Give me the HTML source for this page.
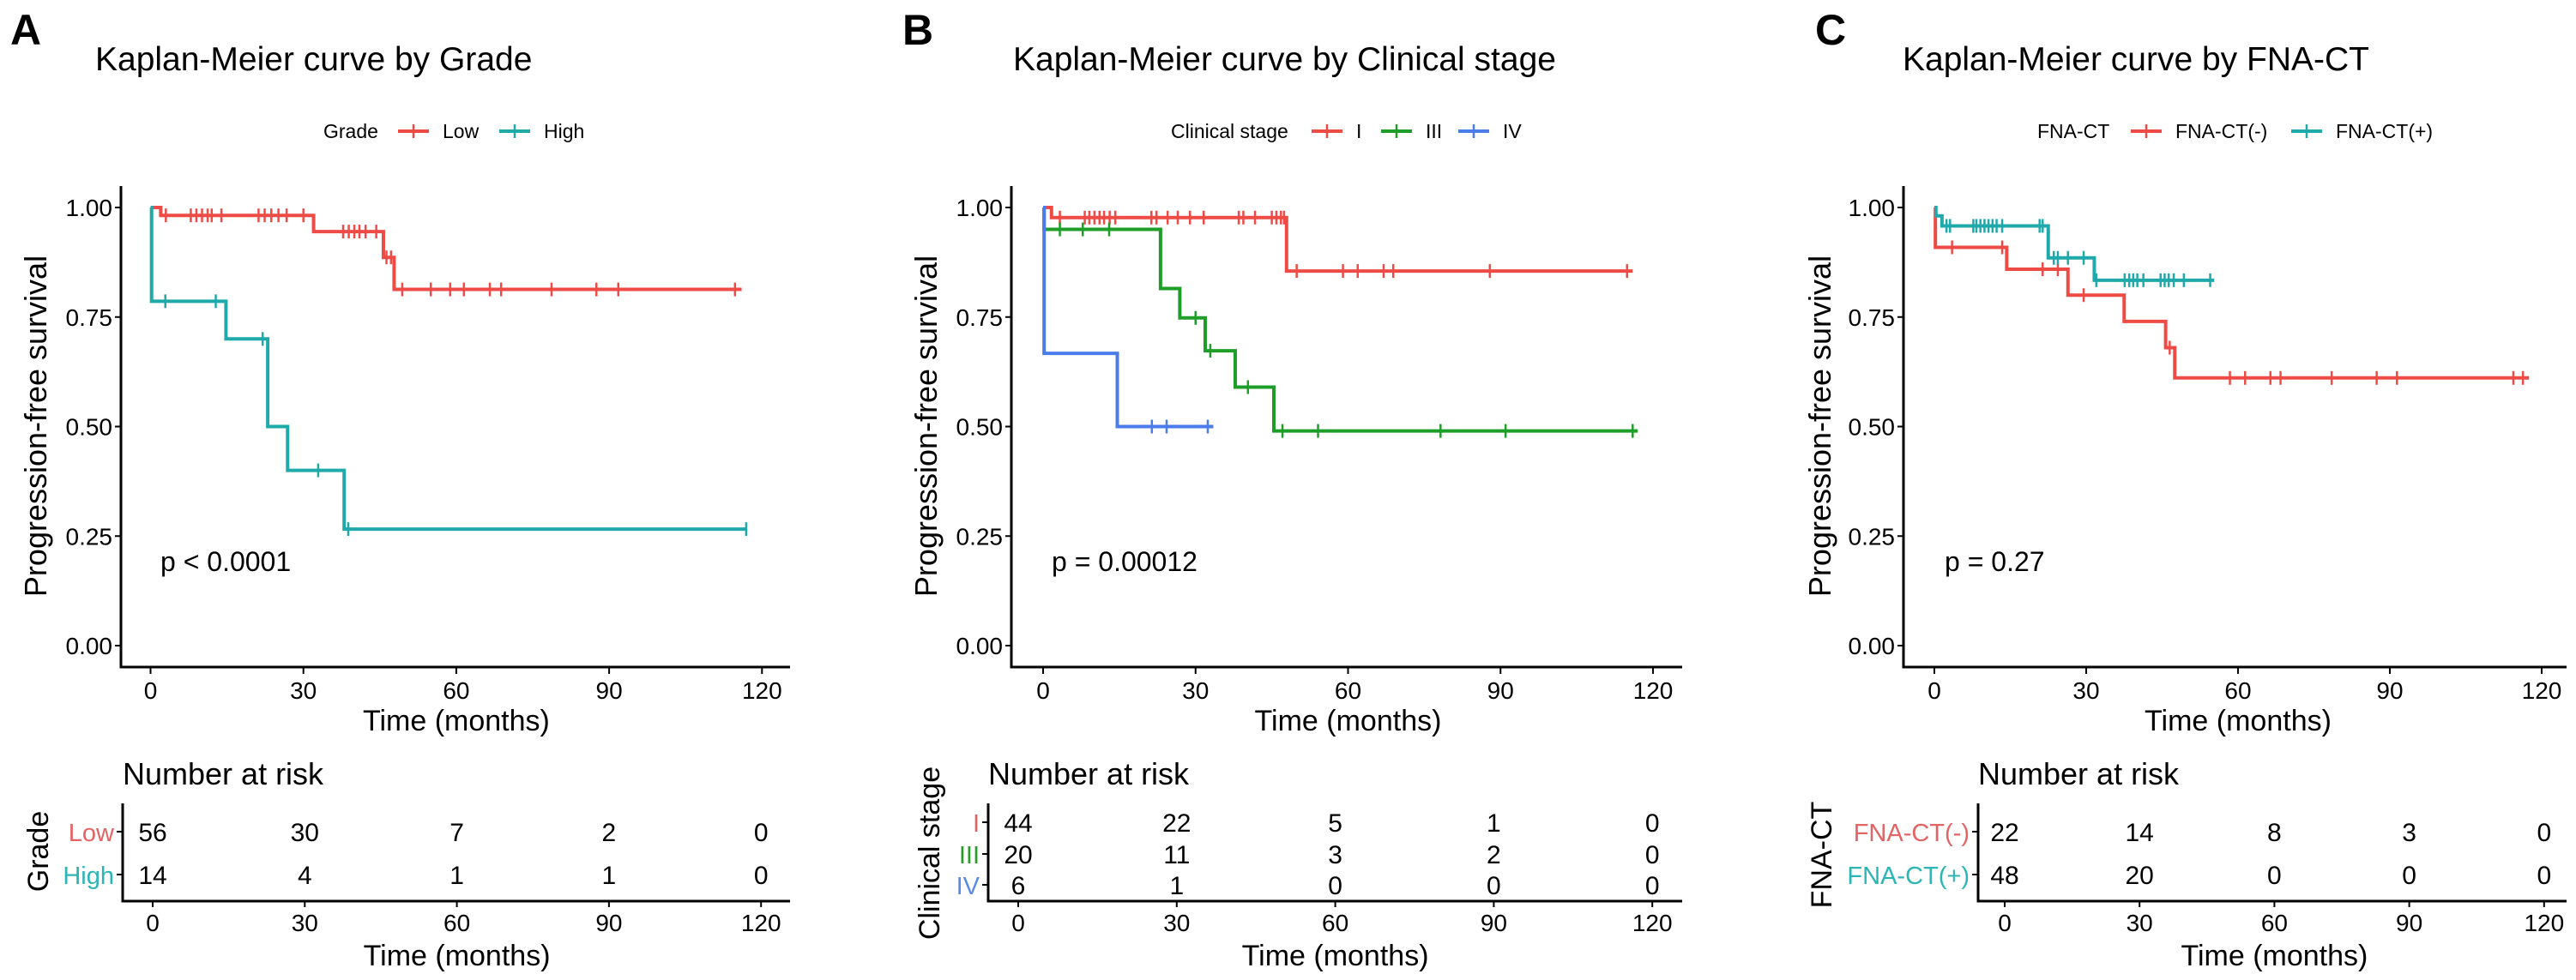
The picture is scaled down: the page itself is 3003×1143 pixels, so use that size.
<!DOCTYPE html>
<html><head><meta charset="utf-8">
<style>
html,body{margin:0;padding:0;background:#fff;}
svg{display:block;font-family:"Liberation Sans",Arial,sans-serif;}
</style></head>
<body>
<svg id="fig" width="3003" height="1143" viewBox="0 0 3003 1143" xmlns="http://www.w3.org/2000/svg"></svg>
<script>
// ---------- Panel A data (Grade) ----------
const aLowTimes = [0, 2, 32, 45.7, 47.8];
const aLowSurv = [1, 0.982, 0.945, 0.886, 0.813];
const aLowCens = [3, 7.9, 9, 10.1, 11.2, 12, 13.9, 21.2, 22.4, 23.7, 25.1, 26.7, 30, 37.8, 38.9, 40, 41, 42.2, 44.3, 46.3, 47.2, 49.4, 55, 58.8, 61.5, 66.6, 68.8, 78.7, 87.5, 91.8, 114.7];
const aLowEnd = 116;
const aHighTimes = [0, 0.2, 14.8, 23, 26.9, 38];
const aHighSurv = [1, 0.786, 0.70, 0.50, 0.40, 0.266];
const aHighCens = [2.9, 12.8, 22, 32.9, 38.8, 116.9];
const aHighEnd = 117;
const aRiskLow = [56, 30, 7, 2, 0];
const aRiskHigh = [14, 4, 1, 1, 0];
// ---------- Panel B data (Clinical stage) ----------
const bITimes = [0, 1.65, 47.9];
const bISurv = [1, 0.977, 0.855];
const bICens = [3.3, 8.2, 9.1, 10.1, 11.1, 12, 13.1, 14.2, 21.3, 22.3, 24.5, 26.5, 28.9, 31.6, 38.5, 39.4, 41.7, 45, 45.9, 46.8, 47.4, 49.9, 59, 61.9, 67, 68.9, 87.9, 114.9];
const bIEnd = 116;
const bIIITimes = [0, 0.2, 23.1, 26.9, 31.9, 37.8, 45.4];
const bIIISurv = [1, 0.95, 0.815, 0.748, 0.673, 0.59, 0.49];
const bIIICens = [3.3, 7.8, 13, 30, 32.9, 40.3, 47.1, 54.1, 78.2, 91, 116];
const bIIIEnd = 117;
const bIVTimes = [0, 0.2, 14.6];
const bIVSurv = [1, 0.667, 0.5];
const bIVCens = [21.4, 24.3, 32.4];
const bIVEnd = 33.5;
const bRiskI = [44, 22, 5, 1, 0];
const bRiskIII = [20, 11, 3, 2, 0];
const bRiskIV = [6, 1, 0, 0, 0];
// ---------- Panel C data (FNA-CT) ----------
const cNegTimes = [0, 0.2, 14.3, 26.4, 37.5, 45.7, 47.5];
const cNegSurv = [1, 0.909, 0.859, 0.80, 0.74, 0.68, 0.611];
const cNegCens = [3.5, 13.4, 21.4, 24.4, 29.5, 46.5, 58.4, 61.4, 66.4, 68.4, 78.5, 87.4, 91.4, 114.4, 116.3];
const cNegEnd = 117.5;
const cPosTimes = [0, 0.3, 1.5, 22.5, 31.6];
const cPosSurv = [1, 0.981, 0.958, 0.885, 0.834];
const cPosCens = [2.4, 3.1, 7.7, 8.3, 9.1, 9.9, 10.7, 11.5, 12.3, 13.4, 20.8, 21.4, 23.6, 24.4, 26.4, 29.5, 32, 37.6, 38.5, 39.3, 40.1, 41.3, 44.7, 45.5, 46.3, 47.3, 49.3, 54.5];
const cPosEnd = 55.3;
const cRiskNeg = [22, 14, 8, 3, 0];
const cRiskPos = [48, 20, 0, 0, 0];
// ---------- shared axis labels ----------
const xTicks = [0, 30, 60, 90, 120];
const yTicks = [0, 0.25, 0.5, 0.75, 1];
const yTickLabels = ["0.00", "0.25", "0.50", "0.75", "1.00"];

const RED = "#EE4B47", TEAL = "#1FA9AB", GREEN = "#1E9E28", BLUE = "#4A7DEB";
const RED_L = "#E36464", TEAL_L = "#2BB5B5", GREEN_L = "#2A9A2A", BLUE_L = "#5B8BE8";
const NS = "http://www.w3.org/2000/svg";
const svg = document.getElementById("fig");

function mk(tag, attrs, parent, text) {
  const e = document.createElementNS(NS, tag);
  for (const k in attrs) e.setAttribute(k, attrs[k]);
  if (text !== undefined) e.textContent = text;
  (parent || svg).appendChild(e);
  return e;
}
function stepVal(times, surv, t) {
  let v = surv[0];
  for (let i = 0; i < times.length; i++) if (times[i] <= t) v = surv[i];
  return v;
}

function panel(cfg) {
  const g = mk("g", {});
  
  
  const X = t => cfg.t0 + t * cfg.ppm;
  const Y = v => 753 - 511 * v;
  const L = mk("text", {x: cfg.letterX, y: 52, "font-size": 50, "font-weight": "bold"}, g, cfg.letter);
  
  
  const T = mk("text", {x: cfg.titleX, y: 82, "font-size": 39}, g, cfg.title);
  
  
  const lg = mk("g", {}, g);
  
  
  const lt = mk("text", {x: cfg.legX, y: 161, "font-size": 23}, lg, cfg.legTitle);
  
  
  cfg.series.forEach(s => {
    const e = mk("g", {}, lg);
    
    
    mk("line", {x1: s.legKey, x2: s.legKey + 36, y1: 153, y2: 153, stroke: s.color, "stroke-width": 4}, e);
    mk("line", {x1: s.legKey + 18, x2: s.legKey + 18, y1: 145, y2: 161, stroke: s.color, "stroke-width": 2.5}, e);
    mk("text", {x: s.legKey + 52, y: 161, "font-size": 23}, e, s.name);
  });
  const ax = mk("g", {stroke: "#000", "stroke-width": 3}, g);
  
  
  mk("line", {x1: cfg.axX, x2: cfg.axX, y1: 217, y2: 779}, ax);
  mk("line", {x1: cfg.axX - 1.5, x2: cfg.axEnd, y1: 778, y2: 778}, ax);
  yTicks.forEach((v, i) => {
    mk("line", {x1: cfg.axX - 7, x2: cfg.axX, y1: Y(v), y2: Y(v), "stroke-width": 2}, ax);
    const tl = mk("text", {x: cfg.axX - 10, y: Y(v) + 10, "font-size": 28, "text-anchor": "end", stroke: "none", fill: "#000"}, g, yTickLabels[i]);
    
    
  });
  xTicks.forEach(t => {
    mk("line", {x1: X(t), x2: X(t), y1: 778, y2: 786, "stroke-width": 2}, ax);
    const tl = mk("text", {x: X(t), y: 815, "font-size": 28, "text-anchor": "middle"}, g, String(t));
    
    
  });
  const xt = mk("text", {x: X(60), y: 852, "font-size": 34, "text-anchor": "middle"}, g, "Time (months)");
  
  
  const yt = mk("text", {x: 0, y: 0, "font-size": 36, "text-anchor": "middle", transform: `translate(${cfg.yTitleX},497) rotate(-90)`}, g, "Progression-free survival");
  
  
  cfg.series.forEach(s => {
    const sg = mk("g", {}, g);
    
    
    let d = `M${X(s.times[0])},${Y(s.surv[0])}`;
    for (let i = 1; i < s.times.length; i++) {
      d += ` H${X(s.times[i])} V${Y(s.surv[i])}`;
    }
    d += ` H${X(s.end)}`;
    mk("path", {d: d, fill: "none", stroke: s.color, "stroke-width": 4}, sg);
    s.cens.forEach(t => {
      const v = stepVal(s.times, s.surv, t);
      const c = mk("line", {x1: X(t), x2: X(t), y1: Y(v) - 8, y2: Y(v) + 8, stroke: s.color, "stroke-width": 2.5}, sg);
      
      
    });
  });
  const pv = mk("text", {x: cfg.pX, y: 666, "font-size": 32}, g, cfg.pText);
  
  
  const rg = mk("g", {}, g);
  
  
  const RX = t => cfg.rt0 + t * cfg.rppm;
  const nt = mk("text", {x: cfg.rAxX, y: 915, "font-size": 36}, rg, "Number at risk");
  
  
  mk("line", {x1: cfg.rAxX, x2: cfg.rAxX, y1: 937, y2: 1052, stroke: "#000", "stroke-width": 3}, rg);
  mk("line", {x1: cfg.rAxX - 1.5, x2: cfg.axEnd, y1: 1051, y2: 1051, stroke: "#000", "stroke-width": 3}, rg);
  xTicks.forEach(t => {
    mk("line", {x1: RX(t), x2: RX(t), y1: 1051, y2: 1058, stroke: "#000", "stroke-width": 2}, rg);
    const tl = mk("text", {x: RX(t), y: 1086, "font-size": 28, "text-anchor": "middle"}, rg, String(t));
    
    
  });
  const rxt = mk("text", {x: RX(60), y: 1126, "font-size": 34, "text-anchor": "middle"}, rg, "Time (months)");
  
  
  const ryt = mk("text", {x: 0, y: 0, "font-size": 34, "text-anchor": "middle", transform: `translate(${cfg.rTitleX},${cfg.rTitleY}) rotate(-90)`}, rg, cfg.legTitle);
  
  
  cfg.series.forEach((s, i) => {
    const ry = cfg.rows[i];
    mk("line", {x1: cfg.rAxX - 7, x2: cfg.rAxX, y1: ry, y2: ry, stroke: "#000", "stroke-width": 2}, rg);
    const lab = mk("text", {x: cfg.rAxX - 10, y: ry + 11, "font-size": 29, "text-anchor": "end", fill: s.light}, rg, s.name);
    
    
    s.risk.forEach((n, j) => {
      const c = mk("text", {x: RX(xTicks[j]), y: ry + 11, "font-size": 30, "text-anchor": "middle"}, rg, String(n));
      
      
    });
  });
}

panel({id: "grade", letter: "A", letterX: 12, title: "Kaplan-Meier curve by Grade", titleX: 111,
  legX: 377, legTitle: "Grade", axX: 141, axEnd: 921, t0: 175.5, ppm: 5.94, yTitleX: 54,
  pX: 187, pText: "p < 0.0001", rAxX: 143, rt0: 178, rppm: 5.91, rows: [970, 1020], rTitleX: 56, rTitleY: 993,
  series: [
    {key: "low", name: "Low", color: RED, light: RED_L, times: aLowTimes, surv: aLowSurv, cens: aLowCens, end: aLowEnd, risk: aRiskLow, legKey: 464},
    {key: "high", name: "High", color: TEAL, light: TEAL_L, times: aHighTimes, surv: aHighSurv, cens: aHighCens, end: aHighEnd, risk: aRiskHigh, legKey: 582}
  ]});
panel({id: "stage", letter: "B", letterX: 1052, title: "Kaplan-Meier curve by Clinical stage", titleX: 1181,
  legX: 1365, legTitle: "Clinical stage", axX: 1179, axEnd: 1961, t0: 1216, ppm: 5.925, yTitleX: 1092,
  pX: 1226, pText: "p = 0.00012", rAxX: 1152, rt0: 1187, rppm: 6.16, rows: [959, 996, 1032], rTitleX: 1095, rTitleY: 995,
  series: [
    {key: "stage-i", name: "I", color: RED, light: RED_L, times: bITimes, surv: bISurv, cens: bICens, end: bIEnd, risk: bRiskI, legKey: 1529},
    {key: "stage-iii", name: "III", color: GREEN, light: GREEN_L, times: bIIITimes, surv: bIIISurv, cens: bIIICens, end: bIIIEnd, risk: bRiskIII, legKey: 1610},
    {key: "stage-iv", name: "IV", color: BLUE, light: BLUE_L, times: bIVTimes, surv: bIVSurv, cens: bIVCens, end: bIVEnd, risk: bRiskIV, legKey: 1700}
  ]});
panel({id: "fnact", letter: "C", letterX: 2116, title: "Kaplan-Meier curve by FNA-CT", titleX: 2218,
  legX: 2375, legTitle: "FNA-CT", axX: 2219, axEnd: 2992, t0: 2255, ppm: 5.9, yTitleX: 2134,
  pX: 2267, pText: "p = 0.27", rAxX: 2306, rt0: 2337, rppm: 5.24, rows: [970, 1020], rTitleX: 2135, rTitleY: 997,
  series: [
    {key: "fnact-neg", name: "FNA-CT(-)", color: RED, light: RED_L, times: cNegTimes, surv: cNegSurv, cens: cNegCens, end: cNegEnd, risk: cRiskNeg, legKey: 2484},
    {key: "fnact-pos", name: "FNA-CT(+)", color: TEAL, light: TEAL_L, times: cPosTimes, surv: cPosSurv, cens: cPosCens, end: cPosEnd, risk: cRiskPos, legKey: 2671}
  ]});
</script>
</body></html>
